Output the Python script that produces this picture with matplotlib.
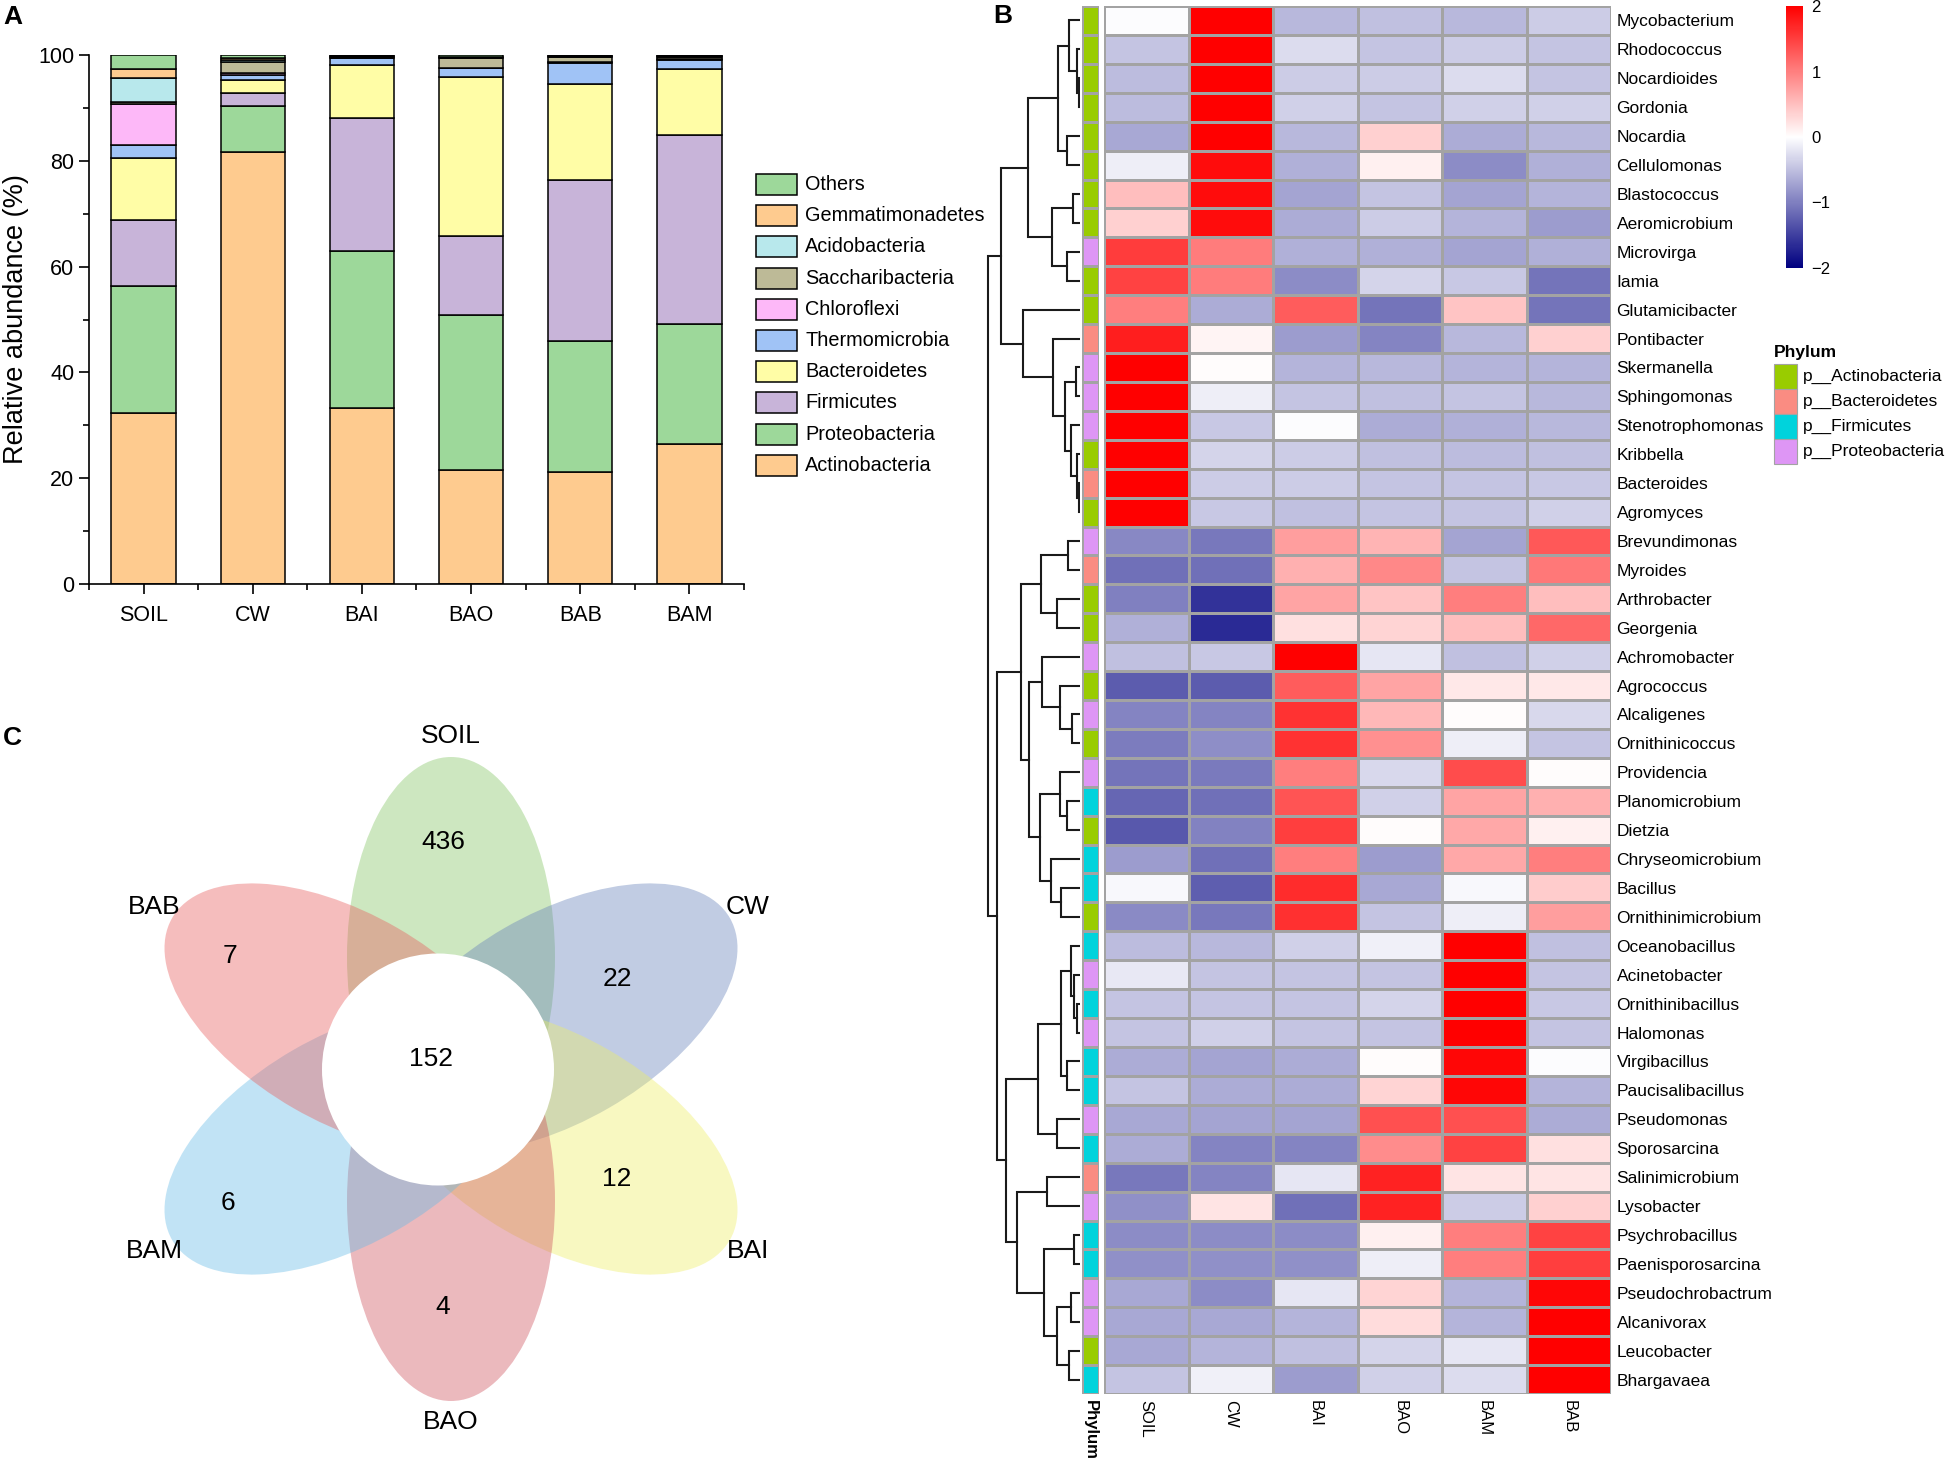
import numpy as np
import matplotlib.pyplot as plt
from matplotlib.patches import Ellipse, Circle, Rectangle
from matplotlib.colors import LinearSegmentedColormap, ListedColormap, Normalize
from matplotlib.cm import ScalarMappable

plt.rcParams['font.family'] = ['Liberation Sans', 'DejaVu Sans']

W, H = 1950, 1464

# ---------------- panel A data ----------------
samples = ['SOIL', 'CW', 'BAI', 'BAO', 'BAB', 'BAM']
phyla = ['Actinobacteria', 'Proteobacteria', 'Firmicutes', 'Bacteroidetes', 'Thermomicrobia',
         'Chloroflexi', 'Saccharibacteria', 'Acidobacteria', 'Gemmatimonadetes', 'Others']
actinobacteria = [32.3, 81.7, 33.2, 21.5, 21.1, 26.5]
proteobacteria = [24.0, 8.6, 29.7, 29.3, 24.9, 22.7]
firmicutes = [12.5, 2.5, 25.1, 15.0, 30.4, 35.6]
bacteroidetes = [11.7, 2.5, 10.1, 30.1, 18.1, 12.6]
thermomicrobia = [2.4, 0.9, 1.3, 1.6, 4.0, 1.7]
chloroflexi = [7.8, 0.4, 0.1, 0.1, 0.1, 0.1]
saccharibacteria = [0.5, 2.1, 0.2, 1.8, 1.0, 0.4]
acidobacteria = [4.5, 0.4, 0.1, 0.1, 0.1, 0.1]
gemmatimonadetes = [1.6, 0.3, 0.1, 0.1, 0.1, 0.1]
others = [2.7, 0.6, 0.1, 0.4, 0.2, 0.2]
layers = [actinobacteria, proteobacteria, firmicutes, bacteroidetes, thermomicrobia,
          chloroflexi, saccharibacteria, acidobacteria, gemmatimonadetes, others]
phylum_colors = ['#FECB8F', '#9DD89A', '#C8B4D9', '#FFFDA6', '#A0C3F6',
                 '#FDB8F8', '#BDBA97', '#B8E8EC', '#FECB8F', '#9DD89A']

# ---------------- panel B data ----------------
columns = ['SOIL', 'CW', 'BAI', 'BAO', 'BAM', 'BAB']
genera = ['Mycobacterium', 'Rhodococcus', 'Nocardioides', 'Gordonia', 'Nocardia', 'Cellulomonas',
          'Blastococcus', 'Aeromicrobium', 'Microvirga', 'Iamia', 'Glutamicibacter', 'Pontibacter',
          'Skermanella', 'Sphingomonas', 'Stenotrophomonas', 'Kribbella', 'Bacteroides', 'Agromyces',
          'Brevundimonas', 'Myroides', 'Arthrobacter', 'Georgenia', 'Achromobacter', 'Agrococcus',
          'Alcaligenes', 'Ornithinicoccus', 'Providencia', 'Planomicrobium', 'Dietzia',
          'Chryseomicrobium', 'Bacillus', 'Ornithinimicrobium', 'Oceanobacillus', 'Acinetobacter',
          'Ornithinibacillus', 'Halomonas', 'Virgibacillus', 'Paucisalibacillus', 'Pseudomonas',
          'Sporosarcina', 'Salinimicrobium', 'Lysobacter', 'Psychrobacillus', 'Paenisporosarcina',
          'Pseudochrobactrum', 'Alcanivorax', 'Leucobacter', 'Bhargavaea']
genus_phylum = ['A', 'A', 'A', 'A', 'A', 'A', 'A', 'A', 'P', 'A', 'A', 'B',
                'P', 'P', 'P', 'A', 'B', 'A', 'P', 'B', 'A', 'A', 'P', 'A',
                'P', 'A', 'P', 'F', 'A', 'F', 'F', 'A', 'F', 'P', 'F', 'P',
                'F', 'F', 'P', 'F', 'B', 'P', 'F', 'F', 'P', 'P', 'A', 'F']
zscores = [
    [-0.03, 2.0, -0.55, -0.5, -0.55, -0.4],
    [-0.46, 2.0, -0.27, -0.46, -0.4, -0.46],
    [-0.52, 2.0, -0.4, -0.4, -0.27, -0.46],
    [-0.52, 2.0, -0.37, -0.46, -0.37, -0.37],
    [-0.68, 2.0, -0.55, 0.37, -0.65, -0.55],
    [-0.13, 1.9, -0.62, 0.12, -0.9, -0.62],
    [0.5, 1.9, -0.71, -0.46, -0.71, -0.59],
    [0.37, 1.9, -0.65, -0.4, -0.59, -0.78],
    [1.53, 1.03, -0.62, -0.62, -0.71, -0.62],
    [1.47, 1.03, -0.9, -0.34, -0.43, -1.09],
    [1.0, -0.65, 1.28, -1.09, 0.46, -1.09],
    [1.75, 0.08, -0.78, -0.96, -0.55, 0.37],
    [2.0, 0.02, -0.59, -0.55, -0.59, -0.59],
    [2.0, -0.13, -0.46, -0.5, -0.46, -0.55],
    [2.0, -0.43, -0.03, -0.65, -0.62, -0.55],
    [2.0, -0.34, -0.4, -0.5, -0.52, -0.5],
    [2.0, -0.4, -0.4, -0.46, -0.46, -0.43],
    [2.0, -0.43, -0.5, -0.46, -0.46, -0.37],
    [-0.93, -1.06, 0.75, 0.59, -0.71, 1.31],
    [-1.12, -1.12, 0.62, 0.93, -0.46, 1.06],
    [-1.0, -1.6, 0.71, 0.46, 1.0, 0.5],
    [-0.62, -1.66, 0.24, 0.34, 0.5, 1.18],
    [-0.5, -0.43, 2.0, -0.2, -0.5, -0.37],
    [-1.28, -1.28, 1.28, 0.71, 0.18, 0.18],
    [-0.96, -0.96, 1.6, 0.56, 0.02, -0.3],
    [-1.03, -0.88, 1.6, 0.87, -0.13, -0.46],
    [-1.09, -1.04, 1.0, -0.3, 1.4, 0.02],
    [-1.2, -1.12, 1.34, -0.37, 0.71, 0.62],
    [-1.31, -0.98, 1.5, 0.02, 0.68, 0.12],
    [-0.78, -1.12, 1.0, -0.78, 0.68, 1.0],
    [-0.05, -1.26, 1.65, -0.68, -0.05, 0.4],
    [-0.92, -1.06, 1.62, -0.46, -0.13, 0.75],
    [-0.52, -0.55, -0.37, -0.12, 2.0, -0.5],
    [-0.18, -0.46, -0.46, -0.46, 2.0, -0.46],
    [-0.46, -0.46, -0.46, -0.34, 2.0, -0.43],
    [-0.46, -0.37, -0.46, -0.46, 2.0, -0.46],
    [-0.65, -0.71, -0.65, 0.02, 1.95, -0.03],
    [-0.46, -0.65, -0.65, 0.34, 1.95, -0.59],
    [-0.68, -0.71, -0.71, 1.37, 1.37, -0.65],
    [-0.65, -0.96, -0.96, 0.9, 1.47, 0.24],
    [-1.06, -0.96, -0.2, 1.72, 0.21, 0.21],
    [-0.87, 0.21, -1.12, 1.72, -0.4, 0.37],
    [-0.9, -0.9, -0.9, 0.12, 1.0, 1.47],
    [-0.87, -0.87, -0.87, -0.13, 1.0, 1.5],
    [-0.68, -0.9, -0.2, 0.34, -0.59, 1.95],
    [-0.68, -0.68, -0.59, 0.27, -0.59, 2.0],
    [-0.68, -0.59, -0.5, -0.34, -0.2, 2.0],
    [-0.46, -0.12, -0.78, -0.37, -0.27, 2.0],
]
# row clustering: (merge height, left, right); leaves are row indices
tree_a = (79.3,
          (52.3,
           (21.7, (10.7, 0, (3.3, 1, (0.7, 2, 3))), (13.3, 4, 5)),
           (28.3, (7.3, 6, 7), (12.7, 8, 9))),
          (57.3, 10,
           (26.7, 11,
            (15.0, (4.0, 12, 13), (9.3, 14, (3.3, 15, (1.0, 16, 17)))))))
tree_b1 = (59.3,
           (39.3, (11.7, 18, 19), (22.7, 20, 21)),
           (50.7,
            (38.0, 22, (20.0, 23, (8.3, 24, 25))),
            (40.0, (20.0, 26, (13.3, 27, 28)), (29.3, 29, (19.3, 30, 31)))))
tree_b2 = (74.0,
           (41.7,
            (19.3, (9.3, 32, (6.0, 33, (3.3, 34, 35))), (13.3, 36, 37)),
            (23.3, 38, 39)),
           (62.7, (32.7, 40, 41),
            (35.7, (6.0, 42, 43), (23.3, (9.3, 44, 45), (10.7, 46, 47)))))
tree = (91.7, tree_a, (83.3, tree_b1, tree_b2))
legend_phyla = ['p__Actinobacteria', 'p__Bacteroidetes', 'p__Firmicutes', 'p__Proteobacteria']
legend_codes = ['A', 'B', 'F', 'P']
strip_colors = ['#99CC00', '#FA8C82', '#00D3DC', '#DE96F5']

# ---------------- panel C data ----------------
venn_sets = ['SOIL', 'CW', 'BAI', 'BAO', 'BAM', 'BAB']
venn_unique = [436, 22, 12, 4, 6, 7]
venn_core = 152
venn_colors = ['#82C562', '#6480B9', '#EEEE66', '#CD505C', '#66BBE6', '#E85C5C']

fig = plt.figure(figsize=(W / 100, H / 100), dpi=100)


def px_axes(x0, y0, x1, y1):
    return fig.add_axes([x0 / W, 1 - y1 / H, (x1 - x0) / W, (y1 - y0) / H])


ov = px_axes(0, 0, W, H)
ov.set_xlim(0, W)
ov.set_ylim(H, 0)
ov.axis('off')

# panel letters
ov.text(3, 5, 'A', fontsize=19, fontweight='bold', va='top', ha='left')
ov.text(993, 4, 'B', fontsize=19, fontweight='bold', va='top', ha='left')
ov.text(3, 726, 'C', fontsize=19, fontweight='bold', va='top', ha='left')

# ---------------- A: stacked bars ----------------
axA = px_axes(89, 55, 744, 584)
x = np.arange(len(samples))
bottom = np.zeros(len(samples))
for vals, col in zip(layers, phylum_colors):
    axA.bar(x, vals, 0.59, bottom=bottom, color=col, edgecolor='black', linewidth=1.1)
    bottom += np.array(vals)
axA.set_xlim(-0.5, 5.5)
axA.set_ylim(0, 100)
for s in ['top', 'right']:
    axA.spines[s].set_visible(False)
for s in ['left', 'bottom']:
    axA.spines[s].set_linewidth(1.2)
axA.set_xticks(x, samples, fontsize=15.5)
axA.set_xticks(np.arange(-0.5, 6, 1), minor=True)
axA.set_yticks(range(0, 101, 20))
axA.set_yticks(range(10, 100, 20), minor=True)
axA.tick_params(axis='both', which='major', length=7, width=1.2, labelsize=15.5)
axA.tick_params(axis='both', which='minor', length=4, width=1.2)
axA.tick_params(axis='x', pad=8)
axA.set_ylabel('Relative abundance (%)', fontsize=19.5)
axA.yaxis.set_label_coords(-0.092, 0.5)

# legend A (top: Others ... bottom: Actinobacteria)
for k, (name, col) in enumerate(zip(phyla[::-1], phylum_colors[::-1])):
    yc = 184.5 + 31.2 * k
    ov.add_patch(Rectangle((756, yc - 10.5), 41, 21, facecolor=col, edgecolor='black', lw=1.1))
    ov.text(805, yc, name, fontsize=14.3, va='center', ha='left')

# ---------------- B: heatmap ----------------
cmap = LinearSegmentedColormap.from_list('nwr', ['#000080', '#FFFFFF', '#FF0000'])
nrow = len(genera)
axH = px_axes(1104, 6, 1611, 1394)
axH.pcolormesh(np.array(zscores), cmap=cmap, vmin=-2, vmax=2,
               edgecolors='#A3A3A3', linewidth=1.0)
axH.set_xlim(0, len(columns))
axH.set_ylim(nrow, 0)
for s in axH.spines.values():
    s.set_visible(False)
axH.yaxis.tick_right()
axH.set_yticks(np.arange(nrow) + 0.5, genera, fontsize=12.5)
axH.set_xticks(np.arange(len(columns)) + 0.5, columns, rotation=-90, fontsize=12)
axH.tick_params(length=0, pad=4)

# phylum annotation strip
axP = px_axes(1082, 6, 1099, 1394)
codes = np.array([[legend_codes.index(p)] for p in genus_phylum])
axP.pcolormesh(codes, cmap=ListedColormap(strip_colors), vmin=-0.5, vmax=3.5,
               edgecolors='#A3A3A3', linewidth=0.8)
axP.set_xlim(0, 1)
axP.set_ylim(nrow, 0)
for s in axP.spines.values():
    s.set_visible(False)
axP.set_yticks([])
axP.set_xticks([0.5], ['Phylum'], rotation=-90, fontsize=12, fontweight='bold')
axP.tick_params(length=0, pad=4)

# dendrogram
axD = px_axes(980, 6, 1080, 1394)
axD.set_xlim(100, 0)
axD.set_ylim(nrow, 0)
axD.axis('off')


def draw_tree(node):
    if isinstance(node, int):
        return node + 0.5, 0.0
    h, left, right = node
    y1, h1 = draw_tree(left)
    y2, h2 = draw_tree(right)
    axD.plot([h1, h, h, h2], [y1, y1, y2, y2], color='#1A1A1A', lw=1.5,
             solid_joinstyle='miter')
    return (y1 + y2) / 2, h


draw_tree(tree)

# colorbar
cax = px_axes(1786, 6, 1803, 268)
cb = fig.colorbar(ScalarMappable(Normalize(-2, 2), cmap), cax=cax)
cb.outline.set_visible(False)
cb.set_ticks([-2, -1, 0, 1, 2])
cax.tick_params(length=0, labelsize=12, pad=6)

# phylum legend
ov.text(1774, 353, 'Phylum', fontsize=12.5, fontweight='bold', va='center', ha='left')
for k, (name, col) in enumerate(zip(legend_phyla, strip_colors)):
    y0 = 364 + 25 * k
    ov.add_patch(Rectangle((1774, y0), 23, 25, facecolor=col, edgecolor='#A3A3A3', lw=0.8))
    ov.text(1803, y0 + 12.5, name, fontsize=12.5, va='center', ha='left')

# ---------------- C: flower venn ----------------
fx, fy = 451, 1079
semi_a, semi_b, offset = 200, 104, 122
petal_angle = [90, 30, -30, -90, 210, 150]
num_r = [237, 201, 200, 228, 248, 246]
for name, n, ang, col, rr in zip(venn_sets, venn_unique, petal_angle, venn_colors, num_r):
    t = np.deg2rad(ang)
    cx, cy = fx + offset * np.cos(t), fy - offset * np.sin(t)
    ov.add_patch(Ellipse((cx, cy), 2 * semi_a, 2 * semi_b, angle=-ang,
                         facecolor=col, alpha=0.4, edgecolor='none'))
for name, n, ang, rr in zip(venn_sets, venn_unique, petal_angle, num_r):
    t = np.deg2rad(ang)
    ov.text(fx + 343 * np.cos(t), fy - 343 * np.sin(t), name, fontsize=19,
            ha='center', va='center')
    ov.text(fx + rr * np.cos(t) - 8, fy - rr * np.sin(t), str(n), fontsize=19,
            ha='center', va='center')
ov.add_patch(Circle((438, 1069.5), 116, facecolor='white', edgecolor='none'))
ov.text(431, 1059, str(venn_core), fontsize=19, ha='center', va='center')

fig.savefig('out.png', dpi=100)
